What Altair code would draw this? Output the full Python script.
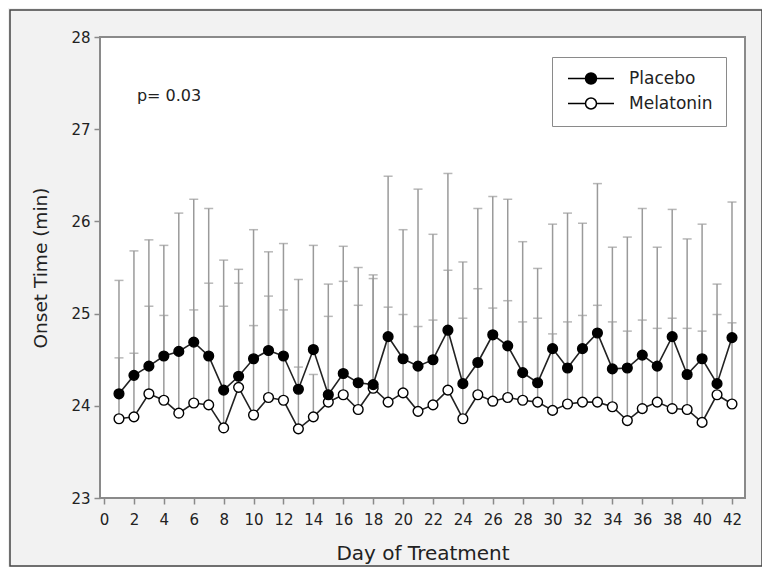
import altair as alt
import pandas as pd

days = [1, 2, 3, 4, 5, 6, 7, 8, 9, 10, 11, 12, 13, 14, 15, 16, 17, 18, 19, 20, 21,
        22, 23, 24, 25, 26, 27, 28, 29, 30, 31, 32, 33, 34, 35, 36, 37, 38, 39, 40, 41, 42]

placebo_mean = [24.13, 24.33, 24.43, 24.54, 24.59, 24.69, 24.54, 24.17, 24.32, 24.51, 24.60,
                24.54, 24.18, 24.61, 24.12, 24.35, 24.25, 24.23, 24.75, 24.51, 24.43, 24.50,
                24.82, 24.24, 24.47, 24.77, 24.65, 24.36, 24.25, 24.62, 24.41, 24.62, 24.79,
                24.40, 24.41, 24.55, 24.43, 24.75, 24.34, 24.51, 24.24, 24.74]
placebo_top = [25.36, 25.68, 25.80, 25.74, 26.09, 26.24, 26.14, 25.58, 25.48, 25.91, 25.67,
               25.76, 25.37, 25.74, 25.32, 25.73, 25.50, 25.42, 26.49, 25.91, 26.35, 25.86,
               26.52, 25.56, 26.14, 26.27, 26.24, 25.78, 25.49, 25.97, 26.09, 25.98, 26.41,
               25.72, 25.83, 26.14, 25.72, 26.13, 25.81, 25.97, 25.32, 26.21]

melatonin_mean = [23.86, 23.88, 24.13, 24.06, 23.92, 24.03, 24.01, 23.76, 24.20, 23.90, 24.09,
                  24.06, 23.75, 23.88, 24.04, 24.12, 23.96, 24.19, 24.04, 24.14, 23.94, 24.01,
                  24.17, 23.86, 24.12, 24.05, 24.09, 24.06, 24.04, 23.95, 24.02, 24.04, 24.04,
                  23.99, 23.84, 23.97, 24.04, 23.97, 23.96, 23.82, 24.12, 24.02]
melatonin_top = [24.52, 24.57, 25.08, 24.98, 24.58, 25.04, 25.33, 25.08, 25.33, 24.87, 25.19,
                 25.04, 24.42, 24.34, 24.97, 25.35, 25.09, 25.38, 25.07, 24.99, 24.86, 24.93,
                 25.47, 24.95, 25.27, 25.06, 25.14, 24.91, 24.95, 24.78, 24.91, 24.98, 25.09,
                 24.91, 24.81, 24.93, 24.84, 24.95, 24.84, 24.81, 24.99, 24.90]

series_names = ["Placebo", "Melatonin"]
x_ticks = [0, 2, 4, 6, 8, 10, 12, 14, 16, 18, 20, 22, 24, 26, 28, 30, 32, 34, 36, 38, 40, 42]
y_ticks = [23, 24, 25, 26, 27, 28]

annot_text = ["p= 0.03"]
annot_x = [2.2]
annot_y = [27.36]

FONT = "DejaVu Sans"
GREY = "#8a8a8a"

df = pd.concat([
    pd.DataFrame({"day": days, "mean": placebo_mean, "top": placebo_top, "series": "Placebo", "ord": 2}),
    pd.DataFrame({"day": days, "mean": melatonin_mean, "top": melatonin_top, "series": "Melatonin", "ord": 1}),
], ignore_index=True)

x_scale = alt.Scale(domain=[-0.27, 42.87], nice=False, zero=False)
y_scale = alt.Scale(domain=[23, 28], nice=False, zero=False)
x_axis = alt.Axis(values=x_ticks, format="d", title="Day of Treatment", tickCount=22,
                  labelOverlap=False, labelPadding=8, titlePadding=16, titleFontSize=20)
y_axis = alt.Axis(values=y_ticks, format="d", title="Onset Time (min)",
                  labelPadding=4, titlePadding=20, titleFontSize=18.5)


def xenc(field):
    return alt.X(field, type="quantitative", scale=x_scale, axis=x_axis)


def yenc(field):
    return alt.Y(field, type="quantitative", scale=y_scale, axis=y_axis)


base = alt.Chart(df)

bars = base.mark_rule(color="#9a9a9a", strokeWidth=1.5).encode(
    x=xenc("day"), y=yenc("mean"), y2="top:Q")
caps = base.mark_tick(orient="horizontal", size=9, thickness=1.5, color="#9a9a9a").encode(
    x=xenc("day"), y=yenc("top"))

lines = base.mark_line(color="#222222", strokeWidth=1.6).encode(
    x=xenc("day"), y=yenc("mean"), detail="series:N", order="ord:Q")

legend_path = "M-1,0L2.18,0M4.18,0L7.36,0M4.18,0A1,1 0 1,1 2.18,0A1,1 0 1,1 4.18,0Z"

points_mel = base.transform_filter(alt.datum.series == "Melatonin").mark_point(
    filled=True, size=95, stroke="black", strokeWidth=1.4, opacity=1).encode(
    x=xenc("day"), y=yenc("mean"),
    fill=alt.Fill("series:N",
                  scale=alt.Scale(domain=series_names, range=["black", "white"]),
                  legend=alt.Legend(title=None, orient="none", legendX=452, legendY=20,
                                    symbolType=legend_path, symbolSize=121,
                                    symbolStrokeColor="black", symbolStrokeWidth=1.5,
                                    labelFont=FONT, labelFontSize=17, labelColor="#222222",
                                    labelOffset=47, padding=13, rowPadding=6,
                                    strokeColor=GREY, fillColor="white")))
points_pla = base.transform_filter(alt.datum.series == "Placebo").mark_point(
    filled=True, size=95, stroke="black", strokeWidth=1.4, opacity=1).encode(
    x=xenc("day"), y=yenc("mean"), fill=alt.Fill("series:N"))

annot = alt.Chart(pd.DataFrame({"t": annot_text, "day": annot_x, "mean": annot_y})).mark_text(
    align="left", baseline="middle", font=FONT, fontSize=16, color="#222222").encode(
    x=xenc("day"), y=yenc("mean"), text="t:N")

border = alt.Chart(pd.DataFrame({"a": [0]})).mark_rect(
    filled=False, stroke="#444444", strokeWidth=1.5).encode(
    x=alt.value(-90), x2=alt.value(662), y=alt.value(-27), y2=alt.value(529))

chart = alt.layer(border, bars, caps, lines, points_mel, points_pla, annot).properties(
    width=645, height=461, background="#f2f2f2",
    padding={"left": 92, "top": 29, "right": 17, "bottom": 69},
    autosize=alt.AutoSizeParams(type="none"),
).configure_view(
    fill="white", stroke=GREY, strokeWidth=2
).configure_axis(
    grid=False, domain=False, labelFont=FONT, labelFontSize=15, labelColor="#222222",
    titleFont=FONT, titleFontWeight="normal", titleColor="#222222",
    tickColor=GREY, tickWidth=1.5, tickSize=6
)

chart.save("out.html", embed_options={"renderer": "svg", "actions": False})
